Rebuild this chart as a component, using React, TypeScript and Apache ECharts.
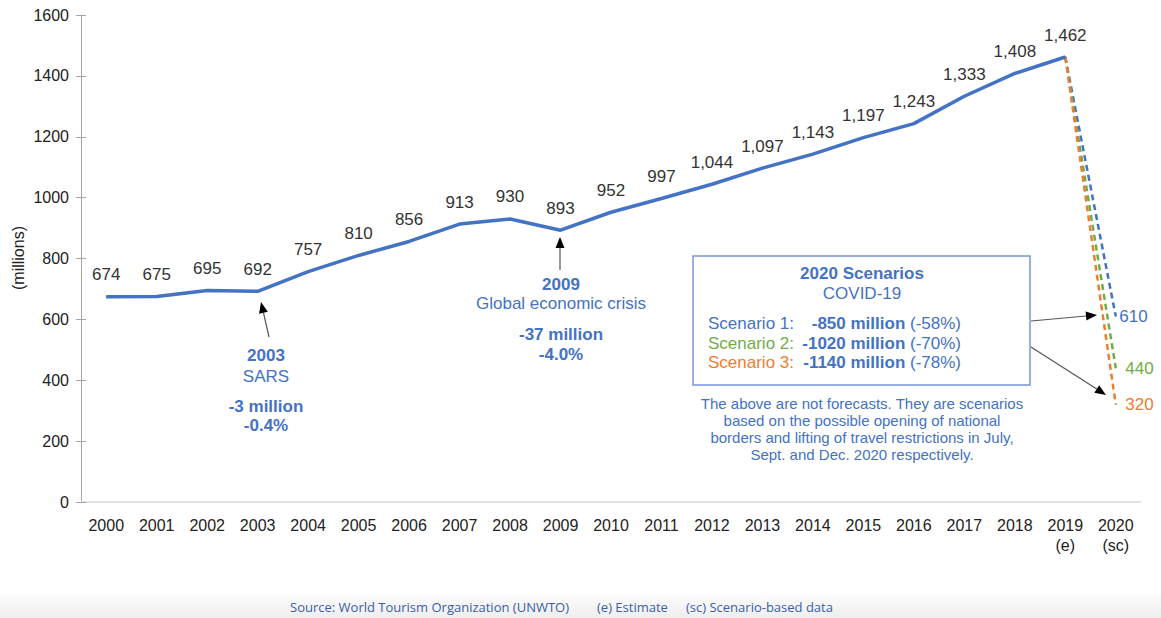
import React, { useEffect, useRef } from "react";
import * as echarts from "echarts";

const years = ["2000","2001","2002","2003","2004","2005","2006","2007","2008","2009","2010","2011","2012","2013","2014","2015","2016","2017","2018","2019\n(e)","2020\n(sc)"];
const arrivals = [674, 675, 695, 692, 757, 810, 856, 913, 930, 893, 952, 997, 1044, 1097, 1143, 1197, 1243, 1333, 1408, 1462];
const scenario1 = 610;
const scenario2 = 440;
const scenario3 = 320;
const yTicks = { min: 0, max: 1600, interval: 200 };

const BLUE = "#4472C4";
const GREEN = "#70AD47";
const ORANGE = "#ED7D31";
const FONT = "Liberation Sans, Arial, sans-serif";

function arrow(x1: number, y1: number, x2: number, y2: number, head = 11, w = 4.5) {
  const a = Math.atan2(y2 - y1, x2 - x1);
  const c = Math.cos(a), s = Math.sin(a);
  const bx = x2 - head * c, by = y2 - head * s;
  const px = -s, py = c;
  return [
    { type: "line", shape: { x1, y1, x2: bx, y2: by }, style: { stroke: "#555", lineWidth: 1.2 } },
    { type: "polygon", shape: { points: [[x2, y2], [bx + w * px, by + w * py], [bx - w * px, by - w * py]] }, style: { fill: "#000" } },
  ];
}

function txt(x: number, y: number, text: string, opts: any = {}) {
  return {
    type: "text",
    x, y,
    style: {
      text,
      fill: opts.fill || BLUE,
      fontSize: opts.fontSize || 17,
      fontWeight: opts.bold ? "bold" : "normal",
      fontFamily: opts.fontFamily || FONT,
      align: opts.align || "center",
      verticalAlign: "middle",
      rich: opts.rich,
    },
  };
}

const fmt = (v: number) => v.toLocaleString("en-US");

function scenarioSeries(name: string, value: number, color: string, dist: number) {
  return {
    name,
    type: "line",
    data: [[years[19], arrivals[19]], [years[20], value]],
    symbol: "circle",
    symbolSize: 1,
    itemStyle: { color },
    lineStyle: { color, width: 2.5, type: [6, 4] },
    label: {
      show: true,
      position: "right",
      distance: dist,
      color,
      fontSize: 17,
      fontFamily: FONT,
      formatter: (p: any) => (p.dataIndex === 1 ? String(p.value[1]) : ""),
    },
    z: 3,
  };
}

export default function App() {
  const ref = useRef<HTMLDivElement>(null);
  useEffect(() => {
    const chart = echarts.init(ref.current!, null, { renderer: "svg" });
    const rich = {
      b: { fontWeight: "bold", fontSize: 17, color: BLUE, fontFamily: FONT },
      n: { fontSize: 17, color: BLUE, fontFamily: FONT },
    };
    const SRC = { align: "left", fontSize: 13, fontFamily: "Open Sans, sans-serif", fill: "#3a5ea8" };
    const graphic: any[] = [
      {
        type: "rect",
        shape: { x: 0, y: 590, width: 1161, height: 28 },
        style: {
          fill: new echarts.graphic.LinearGradient(0, 0, 0, 1, [
            { offset: 0, color: "rgba(255,255,255,1)" },
            { offset: 1, color: "rgba(238,238,238,1)" },
          ]),
        },
        z: -10,
      },
      {
        type: "text", x: 18, y: 258, rotation: Math.PI / 2,
        style: { text: "(millions)", fill: "#222", fontSize: 16, fontFamily: FONT, align: "center", verticalAlign: "middle" },
      },
      // 2003 annotation
      txt(266, 355, "2003", { bold: true }),
      txt(266, 376, "SARS"),
      txt(266, 406, "-3 million", { bold: true }),
      txt(266, 425, "-0.4%", { bold: true }),
      ...arrow(269, 337, 261, 302),
      // 2009 annotation
      txt(561, 284, "2009", { bold: true }),
      txt(561, 303, "Global economic crisis"),
      txt(561, 334, "-37 million", { bold: true }),
      txt(561, 354, "-4.0%", { bold: true }),
      ...arrow(560, 270, 560, 237),
      // Scenario box
      {
        type: "rect",
        shape: { x: 693, y: 256, width: 337, height: 129 },
        style: { fill: "transparent", stroke: "#7797d8", lineWidth: 1.5 },
      },
      txt(862, 273, "2020 Scenarios", { bold: true }),
      txt(862, 293, "COVID-19"),
      txt(708, 323, "Scenario 1:", { align: "left", fill: BLUE }),
      txt(708, 343, "Scenario 2:", { align: "left", fill: GREEN }),
      txt(708, 362, "Scenario 3:", { align: "left", fill: ORANGE }),
      txt(961, 323, "{b|-850 million} {n|(-58%)}", { align: "right", rich }),
      txt(961, 343, "{b|-1020 million} {n|(-70%)}", { align: "right", rich }),
      txt(961, 362, "{b|-1140 million} {n|(-78%)}", { align: "right", rich }),
      txt(862, 403, "The above are not forecasts. They are scenarios", { fontSize: 15 }),
      txt(862, 420, "based on the possible opening of national", { fontSize: 15 }),
      txt(862, 437, "borders and lifting of travel restrictions in July,", { fontSize: 15 }),
      txt(862, 454, "Sept. and Dec. 2020 respectively.", { fontSize: 15 }),
      ...arrow(1031, 321, 1097, 315),
      ...arrow(1031, 347, 1106, 395),
      // Source
      txt(290, 607, "Source: World Tourism Organization (UNWTO)", SRC),
      txt(597, 607, "(e) Estimate", SRC),
      txt(686, 607, "(sc) Scenario-based data", SRC),
    ];

    chart.setOption({
      animation: false,
      backgroundColor: "#fff",
      textStyle: { fontFamily: FONT },
      grid: { left: 81, right: 20, top: 15, bottom: 116, containLabel: false },
      xAxis: {
        type: "category",
        data: years,
        boundaryGap: true,
        axisLine: { show: true, lineStyle: { color: "#d9d9d9", width: 1.5 } },
        axisTick: { show: false },
        axisLabel: { color: "#222", fontSize: 16, fontFamily: FONT, margin: 13, lineHeight: 20, interval: 0 },
        splitLine: { show: false },
      },
      yAxis: [
        {
          type: "value",
          ...yTicks,
          axisLine: { show: true, lineStyle: { color: "#a6a6a6", width: 1 } },
          axisTick: { show: true, length: 5, lineStyle: { color: "#a6a6a6" } },
          axisLabel: { color: "#222", fontSize: 16, fontFamily: FONT, margin: 12, formatter: (v: number) => String(v) },
          splitLine: { show: false },
        },
        {
          type: "value",
          position: "left",
          ...yTicks,
          axisLine: { show: false },
          axisTick: { show: true, inside: true, length: 5, lineStyle: { color: "#a6a6a6" } },
          axisLabel: { show: false },
          splitLine: { show: false },
        },
      ],
      series: [
        {
          name: "Arrivals",
          type: "line",
          data: arrivals,
          symbol: "circle",
          symbolSize: 1,
          itemStyle: { color: BLUE },
          lineStyle: { color: BLUE, width: 3.5 },
          label: {
            show: true,
            position: "top",
            distance: 13,
            color: "#333",
            fontSize: 17,
            fontFamily: FONT,
            formatter: (p: any) => fmt(p.value),
          },
          z: 4,
        },
        scenarioSeries("Scenario 1", scenario1, BLUE, 3),
        scenarioSeries("Scenario 2", scenario2, GREEN, 9),
        scenarioSeries("Scenario 3", scenario3, ORANGE, 9),
      ],
      graphic,
    });
    return () => chart.dispose();
  }, []);
  return <div ref={ref} style={{ position: "fixed", left: 0, top: 0, width: 1161, height: 618 }} />;
}
